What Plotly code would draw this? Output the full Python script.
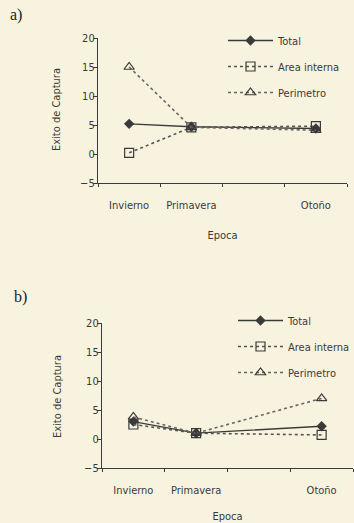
import plotly.graph_objects as go

# Data
epocas = ["Invierno", "Primavera", "Otoño"]
epoca_pos = [0, 1, 3]  # Verano slot left empty as in original

a_total = [5.2, 4.7, 4.4]
a_area = [0.2, 4.6, 4.8]
a_perim = [15.0, 4.6, 4.1]

b_total = [3.0, 1.0, 2.2]
b_area = [2.5, 1.0, 0.7]
b_perim = [3.8, 1.0, 7.0]

y_ticks = [-5, 0, 5, 10, 15, 20]
boundary_ticks = [-0.5, 0.5, 1.5, 2.5, 3.5]

BG = "#f8f3de"
INK = "#3a3a3a"
FONT = "Liberation Sans Narrow, DejaVu Sans Condensed, Arial Narrow, sans-serif"
FS = 11

fig = go.Figure()

def add_panel(total, area, perim, xa, ya, leg):
    fig.add_trace(go.Scatter(
        x=epoca_pos, y=total, name="Total", xaxis=xa, yaxis=ya, legend=leg,
        legendgroup=leg + "t", mode="lines+markers",
        line=dict(color=INK, width=1.3),
        marker=dict(symbol="diamond", size=8, color=INK)))
    fig.add_trace(go.Scatter(
        x=epoca_pos, y=area, name="Area interna", xaxis=xa, yaxis=ya, legend=leg,
        legendgroup=leg + "a", mode="lines+markers",
        line=dict(color="#555555", width=1.6, dash="dot"),
        marker=dict(symbol="square-open", size=9, color=INK, line=dict(width=1.2))))
    fig.add_trace(go.Scatter(
        x=epoca_pos, y=perim, name="Perimetro", xaxis=xa, yaxis=ya, legend=leg,
        legendgroup=leg + "p", mode="lines+markers",
        line=dict(color="#666666", width=1.6, dash="dot"),
        marker=dict(symbol="triangle-up-open", size=9, color=INK, line=dict(width=1.2))))

add_panel(a_total, a_area, a_perim, "x", "y", "legend")
add_panel(b_total, b_area, b_perim, "x2", "y2", "legend2")

W, H = 354, 523

def xdom(l, r):
    return [l / W, r / W]

def ydom(top, bottom):
    return [1 - bottom / H, 1 - top / H]

xcommon = dict(
    range=[-0.5, 3.5], tickvals=epoca_pos, ticktext=epocas, ticks="",
    showline=True, linecolor=INK, linewidth=1.2, showgrid=False, zeroline=False,
    automargin=False,
    ticklabelstandoff=12, tickfont=dict(size=FS, color=INK, family=FONT),
    minor=dict(tickvals=boundary_ticks, ticks="outside", ticklen=3, tickcolor=INK),
    title=dict(text="Epoca", standoff=20, font=dict(size=FS, color=INK, family=FONT)),
)
ycommon = dict(
    range=[-5, 20], tickvals=y_ticks, ticks="outside", ticklen=4, tickcolor=INK,
    showline=True, linecolor=INK, linewidth=1.2, showgrid=False, zeroline=False,
    automargin=False, ticklabelstandoff=-4,
    tickfont=dict(size=FS, color=INK, family=FONT),
)

legcommon = dict(
    font=dict(size=FS, color=INK, family=FONT), bgcolor="rgba(0,0,0,0)",
    tracegroupgap=7, traceorder="grouped", xanchor="left", yanchor="top",
    itemwidth=45,
)

def label(text, x, y, size=16, family="Liberation Serif, Times New Roman, serif", angle=0, anchor="left"):
    return dict(text=text, x=x / W, y=1 - y / H, xref="paper", yref="paper",
                xanchor=anchor, yanchor="middle", showarrow=False, textangle=angle,
                font=dict(family=family, size=size, color="#222" if size > 12 else INK))

fig.update_layout(
    width=W, height=H, margin=dict(l=0, r=0, t=0, b=0, autoexpand=False),
    paper_bgcolor=BG, plot_bgcolor=BG,
    font=dict(family=FONT, color=INK, size=FS),
    xaxis=dict(domain=xdom(98, 347), anchor="y", **xcommon),
    yaxis=dict(domain=ydom(38, 183), anchor="x", **ycommon),
    xaxis2=dict(domain=xdom(102, 353), anchor="y2", **xcommon),
    yaxis2=dict(domain=ydom(323, 468), anchor="x2", **ycommon),
    legend=dict(x=223 / W, y=1 - 26 / H, **legcommon),
    legend2=dict(x=233 / W, y=1 - 306 / H, **legcommon),
    annotations=[
        label("a)", 8, 15),
        label("b)", 12, 297),
        label("Exito de Captura", 56, 110, size=FS, family=FONT, angle=-90, anchor="center"),
        label("Exito de Captura", 57, 396, size=FS, family=FONT, angle=-90, anchor="center"),
    ],
)

fig.write_html("out.html")
